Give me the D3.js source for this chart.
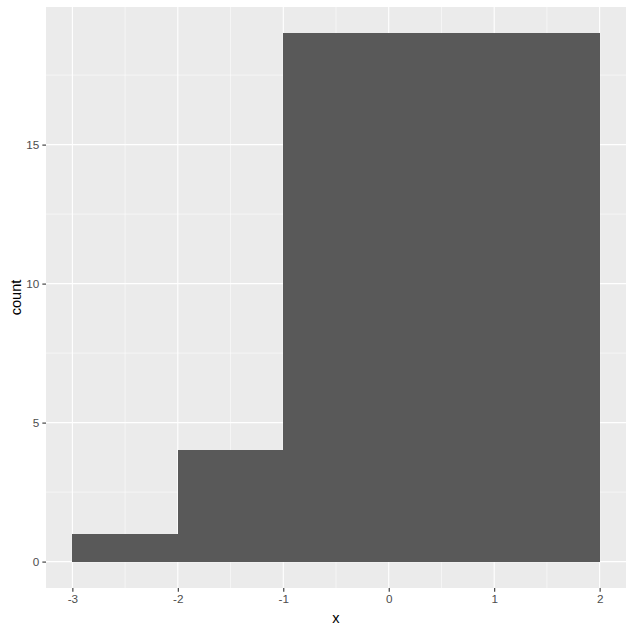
<!DOCTYPE html>
<html><head><meta charset="utf-8">
<script src="https://cdn.jsdelivr.net/npm/d3@7"></script>
<style>body{margin:0;background:#fff;} text{font-family:Arial,"Liberation Sans",sans-serif;}</style>
</head><body>
<svg id="c" width="634" height="633"></svg>
<script>
const binStarts = [-3, -2, -1];
const binEnds = [-2, -1, 2];
const counts = [1, 4, 19];
const xTicks = [-3, -2, -1, 0, 1, 2];
const xMinor = [-2.5, -1.5, -0.5, 0.5, 1.5];
const yTicks = [0, 5, 10, 15];
const yMinor = [2.5, 7.5, 12.5, 17.5];

const svg = d3.select("#c");
const L = 46, R = 626, T = 7, B = 588;
const x = d3.scaleLinear().domain([-3.25, 2.25]).range([L, R]);
const y = d3.scaleLinear().domain([-0.95, 19.95]).range([B, T]);

svg.append("rect").attr("x", L).attr("y", T).attr("width", R - L).attr("height", B - T).attr("fill", "#EBEBEB");

const g = svg.append("g");
g.selectAll(".xm").data(xMinor).enter().append("line")
  .attr("x1", d => x(d)).attr("x2", d => x(d)).attr("y1", T).attr("y2", B)
  .attr("stroke", "#fff").attr("stroke-width", 0.55);
g.selectAll(".ym").data(yMinor).enter().append("line")
  .attr("y1", d => y(d)).attr("y2", d => y(d)).attr("x1", L).attr("x2", R)
  .attr("stroke", "#fff").attr("stroke-width", 0.55);
g.selectAll(".xM").data(xTicks).enter().append("line")
  .attr("x1", d => x(d)).attr("x2", d => x(d)).attr("y1", T).attr("y2", B)
  .attr("stroke", "#fff").attr("stroke-width", 1.1);
g.selectAll(".yM").data(yTicks).enter().append("line")
  .attr("y1", d => y(d)).attr("y2", d => y(d)).attr("x1", L).attr("x2", R)
  .attr("stroke", "#fff").attr("stroke-width", 1.1);

const data = counts.map((c, i) => ({x0: binStarts[i], x1: binEnds[i], c}));
svg.selectAll(".bar").data(data).enter().append("rect")
  .attr("x", d => x(d.x0)).attr("width", d => x(d.x1) - x(d.x0))
  .attr("y", d => y(d.c)).attr("height", d => y(0) - y(d.c))
  .attr("fill", "#595959").attr("shape-rendering", "crispEdges");

const xAxis = d3.axisBottom(x).tickValues(xTicks).tickSize(3.65).tickPadding(3).tickFormat(d3.format("d"));
const gx = svg.append("g").attr("transform", `translate(0,${B})`).call(xAxis);
gx.select(".domain").remove();
gx.selectAll("line").attr("stroke", "#333333").attr("stroke-width", 1.1);
gx.selectAll("text").attr("fill", "#4D4D4D").attr("font-size", 11.7).attr("dy", "0.75em")
  .text(d => d < 0 ? "-" + Math.abs(d) : d);

const yAxis = d3.axisLeft(y).tickValues(yTicks).tickSize(3.65).tickPadding(3).tickFormat(d3.format("d"));
const gy = svg.append("g").attr("transform", `translate(${L},0)`).call(yAxis);
gy.select(".domain").remove();
gy.selectAll("line").attr("stroke", "#333333").attr("stroke-width", 1.1);
gy.selectAll("text").attr("fill", "#4D4D4D").attr("font-size", 11.7);

svg.append("text").attr("x", (L + R) / 2).attr("y", 623).attr("text-anchor", "middle")
  .attr("font-size", 14.6).attr("fill", "#000").text("x");
svg.append("text").attr("transform", `translate(21,${(T + B) / 2}) rotate(-90)`).attr("text-anchor", "middle")
  .attr("font-size", 14.6).attr("fill", "#000").text("count");
</script>
</body></html>
